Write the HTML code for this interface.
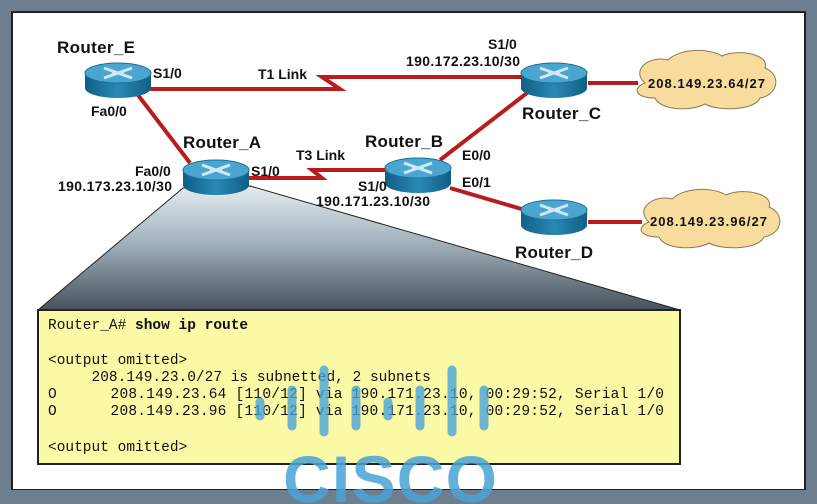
<!DOCTYPE html>
<html><head><meta charset="utf-8"><style>
html,body{margin:0;padding:0;width:817px;height:504px;overflow:hidden;background:#6d7e8f}
svg{display:block}
.l{font-family:"Liberation Sans",sans-serif;font-weight:bold;fill:#111}
.m{font-family:"Liberation Mono",monospace;font-size:14.5px;fill:#111}
</style></head><body>
<svg width="817" height="504" viewBox="0 0 817 504" xmlns="http://www.w3.org/2000/svg">
<defs>
<linearGradient id="tr" x1="0" y1="0" x2="0" y2="1">
<stop offset="0" stop-color="#e4ecf0"/><stop offset="0.45" stop-color="#a3b3bd"/><stop offset="1" stop-color="#46515b"/></linearGradient>
<linearGradient id="rb" x1="0" y1="0" x2="1" y2="0">
<stop offset="0" stop-color="#0f5f86"/><stop offset="0.5" stop-color="#2a88b4"/><stop offset="1" stop-color="#0f5f86"/></linearGradient>
<g id="rt">
<path d="M-33,0 V15 A33,10 0 0 0 33,15 V0 Z" fill="url(#rb)"/>
<ellipse cx="0" cy="0" rx="33" ry="10" fill="#4aa6cf" stroke="#1d6f96" stroke-width="1"/>
<path d="M-14,-5 L14,5 M14,-5 L-14,5 M-6,0 H6" stroke="#cfe8f3" stroke-width="3"/>
</g>
</defs>
<rect x="12" y="12" width="793" height="478" fill="#fff" stroke="#222" stroke-width="2"/>
<polygon points="183,188 250,186 680,310 38,310" fill="url(#tr)" stroke="#222" stroke-width="1"/>
<g stroke="#b81c1c" stroke-width="4" fill="none">
<polyline points="150,89 340,89 322,77 521,77"/>
<line x1="138" y1="95" x2="190" y2="163"/>
<polyline points="249,178 322,178 312,170 387,170"/>
<line x1="440" y1="160" x2="527" y2="93"/>
<line x1="450" y1="188" x2="525" y2="210"/>
<line x1="588" y1="83" x2="638" y2="83"/>
<line x1="588" y1="222" x2="642" y2="222"/>
</g>
<g fill="#f8dc9e" stroke="#8a7a50" stroke-width="1">
<path d="M645,83 C630,70 650,55 668,60 C680,48 710,48 722,56 C740,48 770,55 765,68 C782,75 778,95 760,98 C755,110 720,112 705,104 C690,112 660,110 655,98 C635,98 632,88 645,83 Z"/>
<path d="M649,222 C634,209 654,194 672,199 C684,187 714,187 726,195 C744,187 774,194 769,207 C786,214 782,234 764,237 C759,249 724,251 709,243 C694,251 664,249 659,237 C639,237 636,227 649,222 Z"/>
</g>
<use href="#rt" x="118" y="73"/>
<use href="#rt" x="216" y="170"/>
<use href="#rt" x="418" y="168"/>
<use href="#rt" x="554" y="73"/>
<use href="#rt" x="554" y="210"/>
<g class="l" font-size="17">
<text x="57" y="53" textLength="78">Router_E</text>
<text x="183" y="148" textLength="78">Router_A</text>
<text x="365" y="147" textLength="78">Router_B</text>
<text x="522" y="119" textLength="79">Router_C</text>
<text x="515" y="258" textLength="78">Router_D</text>
</g>
<g class="l" font-size="14">
<text x="153" y="78">S1/0</text>
<text x="258" y="79">T1 Link</text>
<text x="91" y="116">Fa0/0</text>
<text x="135" y="176">Fa0/0</text>
<text x="58" y="191" textLength="114">190.173.23.10/30</text>
<text x="251" y="176">S1/0</text>
<text x="296" y="160">T3 Link</text>
<text x="358" y="191">S1/0</text>
<text x="316" y="206" textLength="114">190.171.23.10/30</text>
<text x="462" y="160">E0/0</text>
<text x="462" y="187">E0/1</text>
<text x="488" y="49">S1/0</text>
<text x="406" y="66" textLength="114">190.172.23.10/30</text>
<text x="648" y="88" font-size="13" textLength="117">208.149.23.64/27</text>
<text x="650" y="226" font-size="13" textLength="117">208.149.23.96/27</text>
</g>
<rect x="38" y="310" width="642" height="154" fill="#fafaa6" stroke="#222" stroke-width="2"/>
<g class="m">
<text x="48" y="329">Router_A# <tspan font-weight="bold">show ip route</tspan></text>
<text x="48" y="364">&lt;output omitted&gt;</text>
<text x="48" y="381" xml:space="preserve">     208.149.23.0/27 is subnetted, 2 subnets</text>
<text x="48" y="398" xml:space="preserve" textLength="616">O      208.149.23.64 [110/12] via 190.171.23.10, 00:29:52, Serial 1/0</text>
<text x="48" y="415" xml:space="preserve" textLength="616">O      208.149.23.96 [110/12] via 190.171.23.10, 00:29:52, Serial 1/0</text>
<text x="48" y="451">&lt;output omitted&gt;</text>
</g>
<g stroke="#4aa3d8" stroke-width="9" stroke-linecap="round" opacity="0.8">
<line x1="260" y1="402" x2="260" y2="416"/><line x1="292" y1="390" x2="292" y2="426"/>
<line x1="324" y1="370" x2="324" y2="432"/><line x1="356" y1="390" x2="356" y2="426"/>
<line x1="388" y1="402" x2="388" y2="416"/><line x1="420" y1="390" x2="420" y2="426"/>
<line x1="452" y1="370" x2="452" y2="432"/><line x1="484" y1="390" x2="484" y2="426"/>
</g>
<rect x="0" y="490" width="817" height="14" fill="#6d7e8f"/>
<text x="283" y="502" font-family="Liberation Sans,sans-serif" font-weight="bold" font-size="66" fill="#4aa3d8" opacity="0.85" textLength="214">CISCO</text>
</svg>
</body></html>
